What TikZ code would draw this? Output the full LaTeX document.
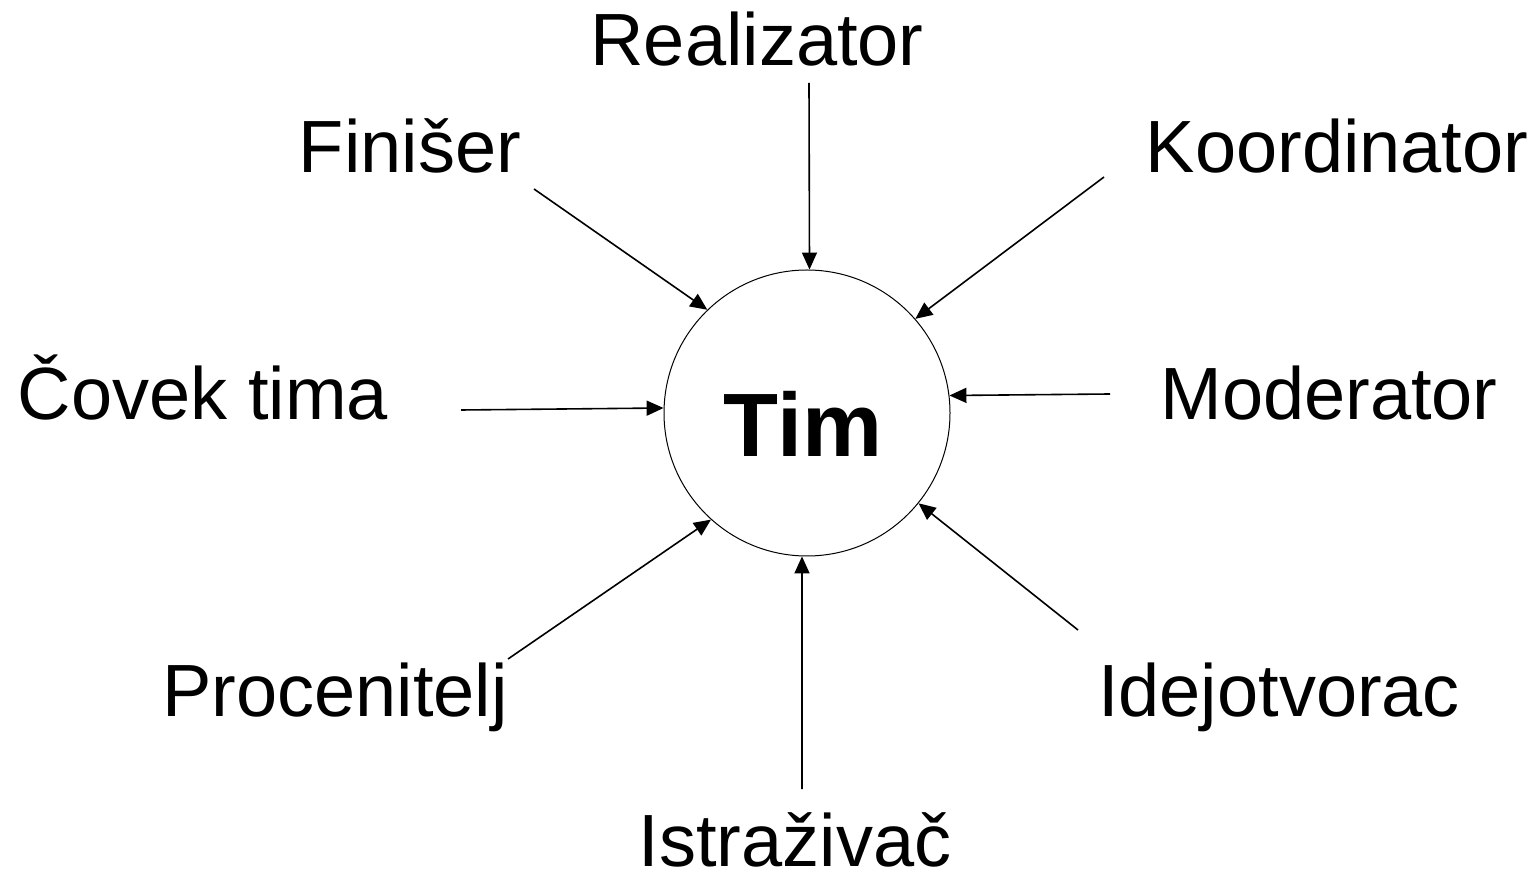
\documentclass[tikz,border=0pt]{standalone}
\usepackage{fontspec}
\setmainfont{Liberation Sans}
\usetikzlibrary{arrows.meta}
\tikzset{ROLE/.style={inner sep=0pt,anchor=base,font=\fontsize{37}{44}\selectfont}}
\tikzset{TEAM/.style={circle,draw,line width=0.5pt,minimum size=143pt,inner sep=0pt}}
\tikzset{ARROW/.style={line width=0.8pt, -{Triangle[length=8.5pt,width=7.5pt]}}}

\begin{document}
\begin{tikzpicture}[x=0.5pt,y=-0.5pt]
\useasboundingbox (0,0) rectangle (1537,876);

\node[TEAM] (n_tim) at (807,413) {};
\node[inner sep=0pt,anchor=base,font=\fontsize{45}{54}\selectfont\bfseries] (n_tim_label) at (803,457) {Tim};

\node[ROLE] (n_realizator) at (757,66) {Realizator};
\node[ROLE] (n_finiser) at (410,173) {Finišer};
\node[ROLE] (n_koordinator) at (1337,173) {Koordinator};
\node[ROLE] (n_covek) at (203,420) {Čovek tima};
\node[ROLE] (n_moderator) at (1329,420) {Moderator};
\node[ROLE] (n_procenitelj) at (335,717) {Procenitelj};
\node[ROLE] (n_idejotvorac) at (1279,717) {Idejotvorac};
\node[ROLE] (n_istrazivac) at (795,866) {Istraživač};

\coordinate (c_realizator) at (809,83);
\coordinate (c_finiser) at (534,189);
\coordinate (c_koordinator) at (1104,177);
\coordinate (c_covek) at (461,410);
\coordinate (c_moderator) at (1110,394);
\coordinate (c_procenitelj) at (508,659);
\coordinate (c_idejotvorac) at (1078,630);
\coordinate (c_istrazivac) at (802,789);

\draw[ARROW] (c_realizator) -- (n_tim.89);
\draw[ARROW] (c_finiser) -- (n_tim.134.4);
\draw[ARROW] (c_koordinator) -- (n_tim.41.9);
\draw[ARROW] (c_covek) -- (n_tim.178.8);
\draw[ARROW] (c_moderator) -- (n_tim.7.8);
\draw[ARROW] (c_procenitelj) -- (n_tim.228.4);
\draw[ARROW] (c_idejotvorac) -- (n_tim.321.4);
\draw[ARROW] (c_istrazivac) -- (n_tim.268.3);

\end{tikzpicture}
\end{document}
